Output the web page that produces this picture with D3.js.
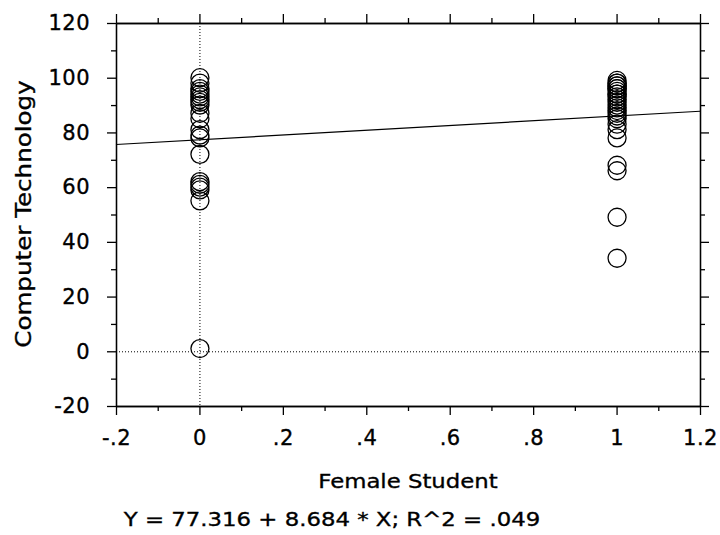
<!DOCTYPE html>
<html>
<head>
<meta charset="utf-8">
<script src="https://cdn.jsdelivr.net/npm/d3@7"></script>
<style>
  html, body { margin: 0; padding: 0; background: #fff; }
  svg { display: block; }
  text { font-family: "DejaVu Sans", Verdana, sans-serif; fill: #000; stroke: #000; stroke-width: 0.35px; }
</style>
</head>
<body>
<svg id="chart" width="720" height="535"></svg>
<script>
// Scatter of Computer Technology score by Female Student (0/1) with fitted line
const groupX = [0, 1];
const scoresMale = [100, 98, 96, 95, 94, 93, 92, 91, 90, 87, 85, 81, 79, 78, 72, 62, 61, 60, 59, 55, 1];
const scoresFemale = [99, 98, 98, 97, 97, 96, 96, 95, 94, 94, 93, 92, 91, 90, 89, 88, 87, 86, 85, 83, 81, 78, 68, 66, 49, 34];
const intercept = 77.316;
const slope = 8.684;
const rSquared = ".049";
const xTicks = [-0.2, 0, 0.2, 0.4, 0.6, 0.8, 1, 1.2];
const xTickLabels = ["-.2", "0", ".2", ".4", ".6", ".8", "1", "1.2"];
const yTicks = [-20, 0, 20, 40, 60, 80, 100, 120];
const yTickLabels = ["-20", "0", "20", "40", "60", "80", "100", "120"];
const xMinor = [-0.1, 0.1, 0.3, 0.5, 0.7, 0.9, 1.1];
const yMinor = [-10, 10, 30, 50, 70, 90, 110];

const svg = d3.select("#chart");
const plotLeft = 116, plotRight = 700, plotTop = 23, plotBottom = 406;

const x = d3.scaleLinear().domain([-0.2, 1.2]).range([plotLeft, plotRight]);
const y = d3.scaleLinear().domain([-20, 120]).range([plotBottom, plotTop]);

const points = [
  ...scoresMale.map(v => ({ x: groupX[0], y: v })),
  ...scoresFemale.map(v => ({ x: groupX[1], y: v }))
];

// zero reference lines (dotted)
svg.append("line")
  .attr("x1", x(0) + 0.5).attr("x2", x(0) + 0.5)
  .attr("y1", plotTop).attr("y2", plotBottom)
  .attr("stroke", "#000").attr("stroke-width", 1).attr("stroke-dasharray", "1,2");
svg.append("line")
  .attr("x1", plotLeft).attr("x2", plotRight)
  .attr("y1", y(0) + 0.5).attr("y2", y(0) + 0.5)
  .attr("stroke", "#000").attr("stroke-width", 1).attr("stroke-dasharray", "1,2");

// fitted regression line across the full x range
svg.append("line")
  .attr("x1", x(-0.2)).attr("y1", y(intercept + slope * -0.2))
  .attr("x2", x(1.2)).attr("y2", y(intercept + slope * 1.2))
  .attr("stroke", "#000").attr("stroke-width", 1.2);

// data points as open circles
svg.append("g").selectAll("circle")
  .data(points).join("circle")
  .attr("cx", d => x(d.x) + 0.5)
  .attr("cy", d => y(d.y))
  .attr("r", 9)
  .attr("fill", "none")
  .attr("stroke", "#000")
  .attr("stroke-width", 1.3);

// axes on all four sides with outward ticks
function addAxis(gen, transform, labels) {
  const g = svg.append("g").attr("transform", transform);
  g.call(gen);
  g.select(".domain").attr("stroke", "#000").attr("stroke-width", 1.3);
  g.selectAll(".tick line").attr("stroke", "#000").attr("stroke-width", 1.3);
  if (!labels) g.selectAll(".tick text").remove();
  return g;
}

const fontSize = 21;

const bottomAxis = addAxis(
  d3.axisBottom(x).tickValues(xTicks).tickSize(9).tickSizeOuter(0).tickPadding(15)
    .tickFormat((d, i) => xTickLabels[i]),
  `translate(0,${plotBottom})`, true);
bottomAxis.selectAll(".tick text").attr("font-size", fontSize).attr("letter-spacing", 0.5);

const leftAxis = addAxis(
  d3.axisLeft(y).tickValues(yTicks).tickSize(9).tickSizeOuter(0).tickPadding(17)
    .tickFormat((d, i) => yTickLabels[i]),
  `translate(${plotLeft},0)`, true);
leftAxis.selectAll(".tick text").attr("font-size", fontSize).attr("letter-spacing", 0.5);

addAxis(d3.axisTop(x).tickValues(xTicks).tickSize(9).tickSizeOuter(0), `translate(0,${plotTop})`, false);
addAxis(d3.axisRight(y).tickValues(yTicks).tickSize(9).tickSizeOuter(0), `translate(${plotRight},0)`, false);

// minor ticks
addAxis(d3.axisBottom(x).tickValues(xMinor).tickSize(5).tickSizeOuter(0), `translate(0,${plotBottom})`, false);
addAxis(d3.axisTop(x).tickValues(xMinor).tickSize(5).tickSizeOuter(0), `translate(0,${plotTop})`, false);
addAxis(d3.axisLeft(y).tickValues(yMinor).tickSize(5).tickSizeOuter(0), `translate(${plotLeft},0)`, false);
addAxis(d3.axisRight(y).tickValues(yMinor).tickSize(5).tickSizeOuter(0), `translate(${plotRight},0)`, false);

// axis titles and fit equation, glyphs widened horizontally
svg.append("text")
  .attr("transform", "translate(408,488) scale(1.14,1)")
  .attr("text-anchor", "middle").attr("font-size", 20)
  .text("Female Student");

svg.append("text")
  .attr("transform", "translate(31,214) rotate(-90) scale(1.17,1)")
  .attr("text-anchor", "middle").attr("font-size", 21)
  .text("Computer Technology");

svg.append("text")
  .attr("transform", "translate(332,526) scale(1.14,1)")
  .attr("text-anchor", "middle").attr("font-size", 20)
  .text(`Y = ${intercept} + ${slope} * X; R^2 = ${rSquared}`);
</script>
</body>
</html>
